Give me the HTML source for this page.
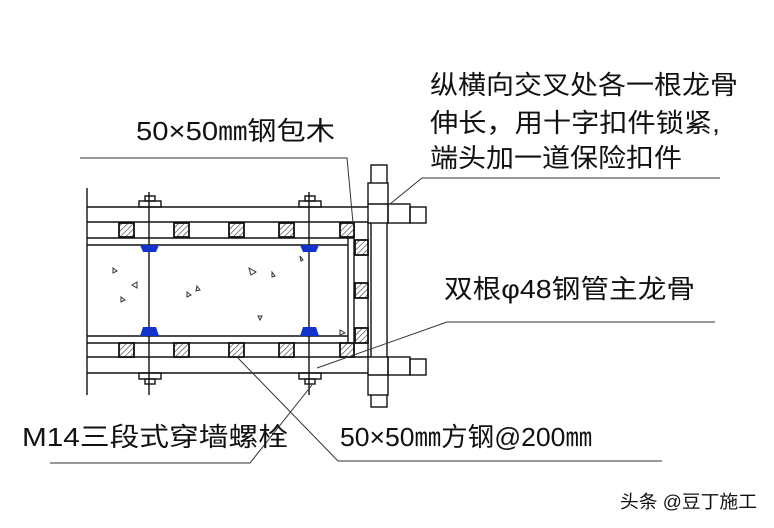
<!DOCTYPE html>
<html><head><meta charset="utf-8"><style>
html,body{margin:0;padding:0;background:#fff;}
svg{display:block;}
text{font-family:"Liberation Sans","Noto Sans CJK SC",sans-serif;fill:#111;}
</style></head><body>
<svg width="774" height="528" viewBox="0 0 774 528" xmlns="http://www.w3.org/2000/svg">
<defs>
<pattern id="h" width="4" height="4" patternUnits="userSpaceOnUse" patternTransform="rotate(45)">
<rect width="4" height="4" fill="#fff"/><line x1="0" y1="0" x2="0" y2="4" stroke="#333" stroke-width="1.2"/></pattern>
</defs>
<g stroke="#111" stroke-width="1.4" fill="none">
<line x1="87" y1="188" x2="87" y2="395"/>
<line x1="87" y1="207" x2="368" y2="207"/>
<line x1="87" y1="222" x2="368" y2="222"/>
<line x1="87" y1="238" x2="354" y2="238"/>
<line x1="87" y1="245" x2="348" y2="245"/>
<line x1="87" y1="336" x2="348" y2="336"/>
<line x1="87" y1="343" x2="354" y2="343"/>
<line x1="87" y1="357" x2="368" y2="357"/>
<line x1="87" y1="373" x2="368" y2="373"/>
<line x1="348" y1="238" x2="348" y2="343"/>
<line x1="354" y1="222" x2="354" y2="357"/>
<rect x="371" y="165" width="16" height="242" fill="#fff"/>
<line x1="368" y1="222" x2="368" y2="357"/>
<rect x="368" y="183" width="20" height="40" fill="#fff"/>
<line x1="368" y1="204" x2="388" y2="204"/>
<rect x="388" y="204" width="22" height="19"/>
<rect x="410" y="207" width="16" height="16"/>
<rect x="368" y="357" width="20" height="38" fill="#fff"/>
<line x1="368" y1="375" x2="388" y2="375"/>
<rect x="388" y="357" width="22" height="18"/>
<rect x="410" y="359" width="16" height="16"/>
<line x1="149" y1="192" x2="149" y2="395"/>
<line x1="309" y1="192" x2="309" y2="395"/>
<rect x="139" y="201" width="22" height="6"/><rect x="145" y="196" width="10" height="5"/>
<rect x="299" y="201" width="22" height="6"/><rect x="305" y="196" width="10" height="5"/>
<rect x="139" y="373" width="22" height="6"/><rect x="145" y="379" width="10" height="5"/>
<rect x="299" y="373" width="22" height="6"/><rect x="305" y="379" width="10" height="5"/>
</g>
<g stroke="#111" stroke-width="1.8" fill="url(#h)">
<rect x="119" y="223" width="15" height="14"/><rect x="174" y="223" width="15" height="14"/>
<rect x="229" y="223" width="15" height="14"/><rect x="279" y="223" width="15" height="14"/>
<rect x="340" y="223" width="14" height="14"/>
<rect x="119" y="343" width="15" height="14"/><rect x="174" y="343" width="15" height="14"/>
<rect x="229" y="343" width="15" height="14"/><rect x="279" y="343" width="15" height="14"/>
<rect x="340" y="343" width="14" height="14"/>
<rect x="355" y="240" width="13" height="15"/><rect x="355" y="283" width="13" height="15"/>
<rect x="355" y="328" width="13" height="15"/>
</g>
<g fill="#1133cc">
<path d="M140 245 h19 l-3 7 h-13z"/><path d="M300 245 h19 l-3 7 h-13z"/>
<path d="M143 327 h13 l3 9 h-19z"/><path d="M303 327 h13 l3 9 h-19z"/>
</g>
<g stroke="#333" stroke-width="1" fill="none">
<path d="M113 268 l4 3 l-4 2z"/><path d="M137 282 l-5 3 l5 3z"/><path d="M121 297 l4 3 l-4 2z"/>
<path d="M187 292 l4 3 l-4 2z"/><path d="M197 286 l3 4 l-4 1z"/><path d="M249 268 l7 4 l-5 3z"/>
<path d="M272 272 l3 4 l-3 1z"/><path d="M258 316 l4 0 l-2 4z"/><path d="M300 256 l3 4 l-2 1z"/><path d="M340 330 l5 3 l-5 2z"/>
</g>
<g stroke="#333" stroke-width="1" fill="none">
<polyline points="80,158 347,158 353,223"/>
<polyline points="720,178 422,178 390,204"/>
<polyline points="715,322 447,322 317,368"/>
<polyline points="50,463 250,463 312,385"/>
<polyline points="662,461 338,461 237,357"/>
</g>
<g font-size="26">
<text x="136" y="140" textLength="199" lengthAdjust="spacingAndGlyphs">50×50㎜钢包木</text>
<text x="430" y="94" textLength="308" lengthAdjust="spacingAndGlyphs">纵横向交叉处各一根龙骨</text>
<text x="430" y="132" textLength="290" lengthAdjust="spacingAndGlyphs">伸长，用十字扣件锁紧,</text>
<text x="430" y="167" textLength="252" lengthAdjust="spacingAndGlyphs">端头加一道保险扣件</text>
<text x="444" y="298" textLength="251" lengthAdjust="spacingAndGlyphs">双根φ48钢管主龙骨</text>
<text x="22" y="446" textLength="266" lengthAdjust="spacingAndGlyphs">M14三段式穿墙螺栓</text>
<text x="340" y="446" textLength="252" lengthAdjust="spacingAndGlyphs">50×50㎜方钢@200㎜</text>
</g>
<text x="620" y="508" font-size="18" fill="#333" textLength="137" lengthAdjust="spacingAndGlyphs">头条 @豆丁施工</text>
</svg>
</body></html>
